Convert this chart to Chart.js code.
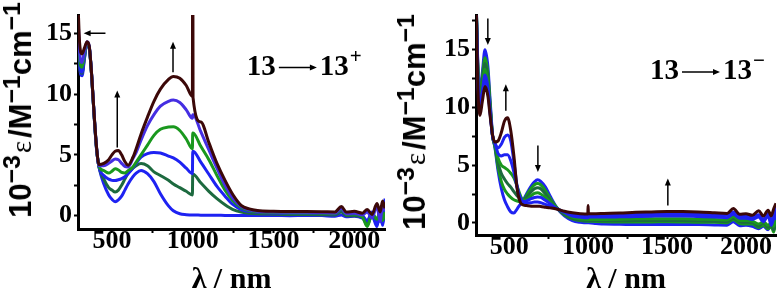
<!DOCTYPE html>
<html>
<head>
<meta charset="utf-8">
<script src="https://cdn.jsdelivr.net/npm/chart.js@4.4.1/dist/chart.umd.min.js"></script>
<style>
  body { margin: 0; background: #fff; }
  #wrap { position: relative; width: 782px; height: 298px; overflow: hidden; }
  canvas { position: absolute; top: 0; }
  #chartL { left: 0; }
  #chartR { left: 390px; }
  .ytitle {
    position: absolute; color: #000; white-space: nowrap; line-height: 1;
    font: bold 31px "Liberation Sans", Arial, sans-serif;
    transform: translate(-50%, -50%) rotate(-90deg);
  }
  .ytitle sup { font-size: 0.8em; position: relative; top: -0.45em; vertical-align: baseline; line-height: 0; }
  .ytitle .eps { font: 29px "Liberation Serif", "Times New Roman", serif; margin: 0 3px 0 2px; }
</style>
</head>
<body>
<div id="wrap">
  <canvas id="chartL" width="390" height="298"></canvas>
  <canvas id="chartR" width="392" height="298"></canvas>
  <div class="ytitle" style="left:21px; top:110px">10<sup>−3</sup><span class="eps">ε</span>/M<sup>−1</sup>cm<sup>−1</sup></div>
  <div class="ytitle" style="left:415px; top:122px">10<sup>−3</sup><span class="eps">ε</span>/M<sup>−1</sup>cm<sup>−1</sup></div>
</div>
<script>
// ---- left panel: 13 -> 13+ (oxidation) ----
const waveL = [290, 300, 315, 330, 346, 360, 375, 390, 405, 420,
  450, 480, 500, 520, 540, 560, 580, 600, 630, 650,
  680, 720, 760, 800, 850, 880, 920, 960, 998, 1000,
  1002, 1050, 1100, 1150, 1200, 1250, 1300, 1350, 1400, 1500,
  1600, 1700, 1800, 1880, 1920, 1950, 2000, 2050, 2080, 2110,
  2140, 2160, 2175, 2190];

const oxStart = [15.0, 12.2, 11.5, 12.9, 14.2, 13.8, 11.4, 8.2, 5.4, 4.0,
  2.6, 1.7, 1.35, 1.15, 1.3, 1.6, 2.1, 2.6, 3.2, 3.5,
  3.72, 3.45, 2.8, 1.8, 0.8, 0.4, 0.15, 0.08, 0.05, 0.05,
  0.05, 0.04, 0.03, 0.03, 0.02, 0.02, 0.02, 0.02, 0.02, 0.02,
  0.0, 0.02, 0.0, -0.05, 0.05, -0.1, -0.05, -0.2, -0.5, 0.0,
  -0.9, 0.2, -0.8, 1.4];
const ox2 = [15.2, 12.4, 11.7, 13.0, 14.2, 13.8, 11.4, 8.2, 5.5, 4.0,
  3.0, 2.3, 2.1, 1.95, 2.1, 2.5, 3.0, 3.5, 3.9, 4.1,
  4.28, 4.1, 3.6, 3.3, 2.9, 2.6, 2.3, 2.0, 1.7, 3.4,
  3.4, 2.7, 2.0, 1.4, 0.9, 0.5, 0.3, 0.2, 0.15, 0.12,
  0.1, 0.1, 0.08, 0.05, 0.3, 0.0, 0.0, -0.1, -0.8, 0.1,
  -0.4, 0.3, -0.5, 0.4];
const ox3 = [15.5, 12.6, 11.8, 13.1, 14.2, 13.8, 11.4, 8.2, 5.5, 4.0,
  3.3, 3.0, 2.9, 2.88, 2.95, 3.05, 3.2, 3.45, 3.9, 4.3,
  4.8, 5.1, 5.2, 5.15, 4.9, 4.75, 4.4, 3.9, 3.45, 5.3,
  5.3, 4.4, 3.4, 2.4, 1.6, 0.9, 0.5, 0.35, 0.28, 0.22,
  0.2, 0.2, 0.18, 0.15, 0.5, 0.1, 0.1, 0.0, -0.4, 0.3,
  -0.8, 0.6, -0.6, 1.2];
const ox4 = [16.0, 13.0, 12.2, 13.3, 14.2, 13.8, 11.4, 8.2, 5.5, 4.05,
  3.7, 3.5, 3.65, 3.85, 3.75, 3.55, 3.5, 3.7, 4.0, 4.4,
  5.0, 5.8, 6.6, 7.1, 7.28, 7.3, 7.0, 6.3, 5.5, 6.8,
  6.8, 5.7, 4.6, 3.3, 2.1, 1.2, 0.65, 0.42, 0.32, 0.25,
  0.22, 0.22, 0.2, 0.18, 0.55, 0.1, 0.12, -0.1, -0.9, 0.2,
  -0.3, 0.4, -0.4, 0.3];
const ox5 = [16.5, 13.4, 12.6, 13.5, 14.3, 13.9, 11.5, 8.3, 5.6, 4.1,
  4.1, 4.3, 4.5, 4.65, 4.6, 4.3, 4.05, 4.0, 4.7, 5.2,
  6.2, 7.4, 8.3, 9.0, 9.4, 9.5, 9.3, 8.7, 8.0, 8.3,
  8.3, 6.9, 5.4, 3.9, 2.5, 1.4, 0.75, 0.48, 0.36, 0.3,
  0.28, 0.28, 0.25, 0.22, 0.6, 0.15, 0.2, 0.05, 0.3, -0.2,
  0.8, -0.5, 0.9, 0.4];
const oxEnd = [17.5, 14.2, 13.3, 13.8, 14.3, 13.9, 11.5, 8.3, 5.6, 4.2,
  4.3, 4.6, 5.0, 5.3, 5.35, 5.0, 4.45, 4.15, 4.8, 5.5,
  6.7, 8.1, 9.4, 10.4, 11.2, 11.45, 11.3, 10.7, 9.8, 30,
  9.7, 7.7, 6.0, 4.3, 2.9, 1.7, 0.85, 0.55, 0.42, 0.35,
  0.33, 0.33, 0.32, 0.3, 0.75, 0.3, 0.35, 0.2, 0.5, 0.1,
  1.0, 0.3, 1.2, 0.6];

// ---- right panel: 13 -> 13- (reduction) ----
const waveR = [290, 300, 315, 330, 347, 365, 380, 395, 410,
  430, 450, 470, 490, 510, 530, 550, 570, 590, 610,
  640, 660, 680, 700, 730, 760, 800, 850, 900, 950,
  998, 1000, 1002, 1050, 1100, 1200, 1300, 1400, 1500, 1600,
  1700, 1800, 1880, 1920, 1960, 2000, 2040, 2080, 2110, 2140,
  2160, 2175, 2190];

const redStart = [20, 14.5, 11.5, 13.0, 15.0, 13.6, 10.5, 7.6, 6.5,
  4.5, 3.0, 2.0, 1.4, 0.95, 0.85, 1.2, 1.6, 2.0, 2.5,
  3.2, 3.55, 3.73, 3.6, 3.1, 2.3, 1.35, 0.6, 0.2, 0.05,
  0.0, 0.0, 0.0, -0.05, -0.1, -0.12, -0.15, -0.15, -0.15, -0.15,
  -0.15, -0.18, -0.2, 0.1, -0.25, -0.2, -0.3, -0.5, -0.3, -0.6,
  -0.2, -0.5, 1.3];
const red2 = [20, 14.2, 11.1, 12.6, 14.3, 13.0, 10.2, 7.5, 6.6,
  4.8, 3.6, 2.9, 2.5, 2.2, 2.0, 1.9, 1.85, 1.9, 2.4,
  3.0, 3.3, 3.4, 3.3, 2.8, 2.1, 1.35, 0.7, 0.35, 0.2,
  0.15, 0.15, 0.15, 0.12, 0.1, 0.08, 0.08, 0.08, 0.1, 0.08,
  0.05, 0.05, 0.0, 0.3, -0.05, -0.1, -0.1, -0.4, -0.2, -0.5,
  -0.3, -0.8, 0.2];
const red3 = [20, 14.0, 10.8, 12.2, 13.8, 12.6, 10.0, 7.5, 6.7,
  5.2, 4.3, 3.8, 3.4, 3.1, 2.7, 2.35, 2.05, 1.9, 2.2,
  2.7, 2.95, 3.05, 2.95, 2.5, 1.95, 1.3, 0.75, 0.4, 0.25,
  0.2, 0.2, 0.2, 0.2, 0.18, 0.18, 0.2, 0.2, 0.2, 0.2,
  0.18, 0.15, 0.12, 0.4, 0.1, 0.05, 0.05, -0.3, 0.0, -0.4,
  -0.1, -0.6, 0.1];
const red4 = [20, 13.7, 10.5, 11.8, 13.3, 12.2, 9.8, 7.5, 6.8,
  5.6, 5.0, 4.8, 4.6, 4.3, 3.9, 3.2, 2.4, 1.95, 2.0,
  2.35, 2.55, 2.6, 2.5, 2.2, 1.8, 1.3, 0.85, 0.5, 0.35,
  0.3, 0.3, 0.3, 0.3, 0.3, 0.32, 0.35, 0.35, 0.35, 0.35,
  0.32, 0.3, 0.25, 0.55, 0.2, 0.2, 0.15, -0.1, 0.1, -0.2,
  0.0, -0.3, 0.2];
const red5 = [20, 13.4, 10.2, 11.4, 12.8, 11.8, 9.6, 7.5, 6.9,
  6.0, 5.8, 5.9, 5.9, 5.4, 4.4, 3.1, 2.2, 1.85, 1.9,
  2.1, 2.2, 2.24, 2.2, 1.95, 1.65, 1.25, 0.9, 0.6, 0.5,
  0.45, 0.5, 0.5, 0.5, 0.5, 0.52, 0.55, 0.58, 0.6, 0.6,
  0.55, 0.5, 0.45, 0.75, 0.4, 0.4, 0.3, 0.5, 0.1, 0.6,
  -0.2, 0.4, 1.0];
const red6 = [20, 13.1, 9.8, 11.0, 12.3, 11.4, 9.4, 7.5, 6.9,
  6.5, 6.8, 7.4, 7.6, 7.1, 5.3, 3.2, 2.1, 1.75, 1.7,
  1.75, 1.8, 1.8, 1.75, 1.6, 1.45, 1.25, 0.95, 0.75, 0.65,
  0.6, 0.7, 0.65, 0.65, 0.68, 0.7, 0.75, 0.78, 0.8, 0.8,
  0.75, 0.7, 0.65, 0.95, 0.6, 0.6, 0.5, 0.7, 0.3, 0.8,
  0.1, 0.7, 1.4];
const redEnd = [20, 12.5, 9.3, 10.5, 11.8, 11.0, 9.2, 7.6, 7.0,
  7.1, 7.8, 8.8, 9.1, 8.0, 5.8, 3.0, 1.8, 1.55, 1.5,
  1.45, 1.45, 1.45, 1.42, 1.36, 1.3, 1.2, 1.0, 0.88, 0.8,
  0.76, 1.5, 0.8, 0.8, 0.82, 0.85, 0.92, 0.95, 0.98, 0.98,
  0.95, 0.88, 0.82, 1.25, 0.75, 0.8, 0.65, 1.05, 0.6, 1.1,
  0.6, 1.2, 1.7];

const xTicks = [500, 750, 1000, 1250, 1500, 1750, 2000];
const yTicksL = [0, 2.5, 5, 7.5, 10, 12.5, 15];
const yTicksR = [0, 2.5, 5, 7.5, 10, 12.5, 15, 17.5];

// arrows [x1, y1, x2, y2] in data units, head at the second point
const arrowsL = [[460, 15, 325, 15], [533, 5.6, 533, 10.3], [878, 11.8, 878, 14.3]];
const arrowsR = [[365, 17.7, 365, 15.4], [479, 9.7, 479, 12.0], [682, 6.7, 682, 4.4], [1505, 1.5, 1505, 3.85]];

const blue = '#1e22f2', violet = '#452ee2', green = '#1a981e', dkgreen = '#1d6a3f', brown = '#3c0808';

function makeSets(xs, series, colors) {
  return series.map((vals, i) => ({
    data: xs.map((x, j) => ({ x: x, y: vals[j] })),
    borderColor: colors[i],
    borderWidth: 3,
    pointRadius: 0,
    cubicInterpolationMode: 'monotone',
    order: series.length - i
  }));
}

function drawArrow(ctx, x1, y1, x2, y2) {
  const ang = Math.atan2(y2 - y1, x2 - x1), len = 7, half = 3;
  ctx.beginPath();
  ctx.moveTo(x1, y1);
  ctx.lineTo(x2 - Math.cos(ang) * len * 0.8, y2 - Math.sin(ang) * len * 0.8);
  ctx.stroke();
  ctx.beginPath();
  ctx.moveTo(x2, y2);
  ctx.lineTo(x2 - Math.cos(ang) * len - Math.sin(ang) * half, y2 - Math.sin(ang) * len + Math.cos(ang) * half);
  ctx.lineTo(x2 - Math.cos(ang) * len + Math.sin(ang) * half, y2 - Math.sin(ang) * len - Math.cos(ang) * half);
  ctx.closePath();
  ctx.fill();
}

const notes = {
  id: 'notes',
  afterDatasetsDraw(chart, args, opts) {
    const ctx = chart.ctx, xs = chart.scales.x, ys = chart.scales.y;
    ctx.save();
    ctx.strokeStyle = '#000';
    ctx.fillStyle = '#000';
    ctx.lineWidth = 1.5;
    opts.arrows.forEach(a => drawArrow(ctx, xs.getPixelForValue(a[0]), ys.getPixelForValue(a[1]),
      xs.getPixelForValue(a[2]), ys.getPixelForValue(a[3])));
    const px = xs.getPixelForValue(opts.label.x), py = ys.getPixelForValue(opts.label.y);
    ctx.font = 'bold 29px "Liberation Serif", serif';
    ctx.textBaseline = 'alphabetic';
    ctx.fillText('13', px, py);
    const w = ctx.measureText('13').width;
    drawArrow(ctx, px + w + 3, py - 7, px + w + 41, py - 7);
    ctx.fillText('13', px + w + 44, py);
    ctx.font = 'bold 21px "Liberation Serif", serif';
    ctx.fillText(opts.label.sup, px + 2 * w + 45, py - 12);
    ctx.restore();
  }
};

const tickFont = { family: 'Liberation Serif', size: 26, weight: 'bold', lineHeight: 1 };

function makeOptions(cfg) {
  return {
    responsive: false,
    animation: false,
    layout: { padding: { top: cfg.top, right: cfg.right, left: 0, bottom: 0 } },
    plugins: {
      legend: { display: false },
      tooltip: { enabled: false },
      notes: { arrows: cfg.arrows, label: cfg.label }
    },
    scales: {
      x: {
        type: 'linear', min: 290, max: 2190,
        afterBuildTicks: s => { s.ticks = xTicks.map(v => ({ value: v })); },
        afterFit: s => { s.height = cfg.xHeight; },
        ticks: { callback: v => (v % 500 === 0 ? String(v) : ''), font: tickFont, color: '#000', maxRotation: 0, autoSkip: false, padding: -5 },
        grid: { drawOnChartArea: false, tickLength: 4, tickWidth: 2, color: '#000' },
        border: { width: 3, color: '#000' },
        title: { display: true, text: 'λ / nm', color: '#000', font: { family: 'Liberation Serif', size: 30, weight: 'bold', lineHeight: 1 }, padding: { top: 0, bottom: 3 } }
      },
      y: {
        min: cfg.ymin, max: cfg.ymax,
        afterBuildTicks: s => { s.ticks = cfg.yTicks.map(v => ({ value: v })); },
        afterFit: s => { s.width = cfg.yWidth; },
        ticks: { callback: v => (v % 5 === 0 ? String(v) : ''), font: tickFont, color: '#000', padding: 2 },
        grid: { drawOnChartArea: false, tickLength: 4, tickWidth: 2, color: '#000' },
        border: { width: 3, color: '#000' }
      }
    }
  };
}

new Chart(document.getElementById('chartL'), {
  type: 'line',
  data: { datasets: makeSets(waveL, [oxStart, ox2, ox3, ox4, ox5, oxEnd], [blue, dkgreen, blue, green, violet, brown]) },
  options: makeOptions({ top: 1, right: 5, xHeight: 69, yWidth: 78, ymin: -1.1, ymax: 16.5, yTicks: yTicksL,
    arrows: arrowsL, label: { x: 1335, y: 11.6, sup: '+' } }),
  plugins: [notes]
});

new Chart(document.getElementById('chartR'), {
  type: 'line',
  data: { datasets: makeSets(waveR, [redStart, red2, red3, red4, red5, red6, redEnd], [blue, green, dkgreen, green, blue, blue, brown]) },
  options: makeOptions({ top: 13, right: 6, xHeight: 63, yWidth: 86, ymin: -1.05, ymax: 18, yTicks: yTicksR,
    arrows: arrowsR, label: { x: 1392, y: 12.45, sup: '−' } }),
  plugins: [notes]
});
</script>
</body>
</html>
